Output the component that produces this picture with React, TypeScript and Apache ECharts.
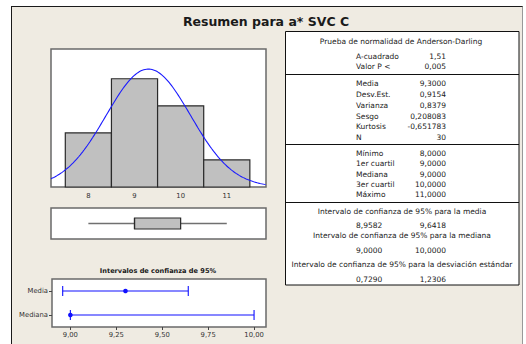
import React, { useEffect, useRef } from "react";
import * as echarts from "echarts";

// ---------- data ----------
const TITLE = "Resumen para a* SVC C";

const binStarts = [7.5, 8.5, 9.5, 10.5];
const binEnds = [8.5, 9.5, 10.5, 11.5];
const binCounts = [6, 12, 9, 3];
const histTicks = [8, 9, 10, 11];

const MEAN = 9.3;
const SD = 0.9154;
const N = 30;
const BIN_WIDTH = 1;

// min, Q1, median, Q3, max
const boxStats = [8, 9, 9, 10, 11];

const ciTitle = "Intervalos de confianza de 95%";
const ciCategories = ["Mediana", "Media"];
const ciLow = [9.0, 8.9582];
const ciHigh = [10.0, 9.6418];
const ciPoint = [9.0, 9.3];
const ciTicks = [9.0, 9.25, 9.5, 9.75, 10.0];

const adHeader = "Prueba de normalidad de Anderson-Darling";
const adLabels = ["A-cuadrado", "Valor P <"];
const adValues = ["1,51", "0,005"];

const momentLabels = ["Media", "Desv.Est.", "Varianza", "Sesgo", "Kurtosis", "N"];
const momentValues = ["9,3000", "0,9154", "0,8379", "0,208083", "-0,651783", "30"];

const quantLabels = ["Mínimo", "1er cuartil", "Mediana", "3er cuartil", "Máximo"];
const quantValues = ["8,0000", "9,0000", "9,0000", "10,0000", "11,0000"];

const ciTableTitles = [
  "Intervalo de confianza de 95% para la media",
  "Intervalo de confianza de 95% para la mediana",
  "Intervalo de confianza de 95% para la desviación estándar",
];
const ciTableLow = ["8,9582", "9,0000", "0,7290"];
const ciTableHigh = ["9,6418", "10,0000", "1,2306"];

// ---------- layout ----------
const HIST_MIN = 7.19;
const HIST_MAX = 11.85;
const FONT = '"DejaVu Sans", sans-serif';
const TXT = "#1a1a1a";

function fittedNormal(): number[][] {
  // fitted normal density from the reported mean / std. dev., scaled to counts
  const pts: number[][] = [];
  for (let x = HIST_MIN; x <= HIST_MAX + 1e-9; x += 0.03) {
    const z = (x - MEAN) / SD;
    const y = (N * BIN_WIDTH) / (SD * Math.sqrt(2 * Math.PI)) * Math.exp(-0.5 * z * z);
    pts.push([x, y]);
  }
  return pts;
}

function txt(text: string, x: number, y: number, align: string, size = 7.5, bold = false) {
  return {
    type: "text",
    silent: true,
    style: {
      text,
      x,
      y,
      fill: TXT,
      textAlign: align,
      textVerticalAlign: "middle",
      fontSize: size,
      fontFamily: FONT,
      fontWeight: bold ? "bold" : "normal",
    },
  };
}

export default function App() {
  const ref = useRef<HTMLDivElement>(null);

  useEffect(() => {
    if (!ref.current) return;
    const chart = echarts.init(ref.current, undefined, { renderer: "svg" });

    const LBL_X = 356;
    const VAL_X = 446;
    const graphics: any[] = [];
    // table
    graphics.push({
      type: "rect",
      silent: true,
      shape: { x: 285.5, y: 31.5, width: 233.5, height: 253.5 },
      style: { fill: "#ffffff", stroke: "#111", lineWidth: 1 },
    });
    [74.5, 144.5, 202.5].forEach((y) =>
      graphics.push({
        type: "line",
        silent: true,
        shape: { x1: 285.5, y1: y, x2: 519, y2: y },
        style: { stroke: "#111", lineWidth: 1.2 },
      })
    );
    graphics.push(txt(TITLE, 266, 21, "center", 12.5, true));
    graphics.push(txt(adHeader, 401, 41, "center"));
    adLabels.forEach((l, i) => {
      graphics.push(txt(l, LBL_X, 56 + i * 10.7, "left"));
      graphics.push(txt(adValues[i], VAL_X, 56 + i * 10.7, "right"));
    });
    momentLabels.forEach((l, i) => {
      graphics.push(txt(l, LBL_X, 83.5 + i * 10.85, "left"));
      graphics.push(txt(momentValues[i], VAL_X, 83.5 + i * 10.85, "right"));
    });
    quantLabels.forEach((l, i) => {
      graphics.push(txt(l, LBL_X, 153.5 + i * 10.3, "left"));
      graphics.push(txt(quantValues[i], VAL_X, 153.5 + i * 10.3, "right"));
    });
    const ciTitleY = [211.7, 235.7, 264.3];
    const ciValY = [225, 250.7, 279];
    ciTableTitles.forEach((t, i) => {
      graphics.push(txt(t, 402, ciTitleY[i], "center"));
      graphics.push(txt(ciTableLow[i], LBL_X, ciValY[i], "left"));
      graphics.push(txt(ciTableHigh[i], VAL_X, ciValY[i], "right"));
    });
    graphics.push(txt(ciTitle, 158, 271, "center", 6.6, true));

    const gridStyle = {
      show: true,
      backgroundColor: "#ffffff",
      borderColor: "#6a6a6a",
      borderWidth: 1.5,
      containLabel: false,
    };

    const option: any = {
      animation: false,
      graphic: graphics,
      grid: [
        { ...gridStyle, left: 51, top: 49, width: 215, height: 138 },
        { ...gridStyle, left: 51, top: 208, width: 215, height: 31 },
        { ...gridStyle, left: 52, top: 279, width: 214, height: 48 },
      ],
      xAxis: [
        {
          type: "value",
          gridIndex: 0,
          min: HIST_MIN,
          max: HIST_MAX,
          axisLine: { show: false },
          axisTick: { show: false },
          splitLine: { show: false },
          axisLabel: {
            customValues: histTicks,
            fontSize: 6.8,
            color: "#333",
            fontFamily: FONT,
            margin: 5,
            formatter: (v: number) => String(v),
          },
        },
        {
          type: "value",
          gridIndex: 1,
          min: HIST_MIN,
          max: HIST_MAX,
          show: false,
        },
        {
          type: "value",
          gridIndex: 2,
          min: 8.9,
          max: 10.065,
          axisLine: { show: false },
          splitLine: { show: false },
          axisTick: {
            show: true,
            customValues: ciTicks,
            length: 3,
            lineStyle: { color: "#444", width: 1 },
          },
          axisLabel: {
            customValues: ciTicks,
            fontSize: 6.8,
            color: "#333",
            fontFamily: FONT,
            margin: 4,
            formatter: (v: number) => v.toFixed(2).replace(".", ","),
          },
        },
      ],
      yAxis: [
        { type: "value", gridIndex: 0, min: 0, max: 15.3, show: false },
        { type: "value", gridIndex: 1, min: 0, max: 1, show: false },
        {
          type: "category",
          gridIndex: 2,
          data: ciCategories,
          axisLine: { show: false },
          splitLine: { show: false },
          axisTick: { show: true, length: 3, alignWithLabel: true, lineStyle: { color: "#444" } },
          axisLabel: { fontSize: 6.8, color: "#333", fontFamily: FONT, margin: 4 },
        },
      ],
      series: [
        {
          type: "custom",
          xAxisIndex: 0,
          yAxisIndex: 0,
          data: binStarts.map((s, i) => [s, binEnds[i], binCounts[i]]),
          encode: { x: [0, 1], y: 2 },
          renderItem: (_p: any, api: any) => {
            const a = api.coord([api.value(0), 0]);
            const b = api.coord([api.value(1), api.value(2)]);
            return {
              type: "rect",
              shape: { x: a[0], y: b[1], width: b[0] - a[0], height: a[1] - b[1] },
              style: { fill: "#c0c0c0", stroke: "#2a2a2a", lineWidth: 1.2 },
            };
          },
        },
        {
          type: "line",
          xAxisIndex: 0,
          yAxisIndex: 0,
          data: fittedNormal(),
          showSymbol: false,
          symbol: "none",
          lineStyle: { color: "#1a1aff", width: 1.1 },
          clip: true,
          z: 5,
        },
        {
          type: "custom",
          xAxisIndex: 1,
          yAxisIndex: 1,
          data: [[...boxStats, 0.5]],
          encode: { x: [0, 1, 2, 3, 4], y: 5 },
          renderItem: (_p: any, api: any) => {
            const yv = api.value(5);
            const pMin = api.coord([api.value(0), yv]);
            const pQ1 = api.coord([api.value(1), yv]);
            const pMed = api.coord([api.value(2), yv]);
            const pQ3 = api.coord([api.value(3), yv]);
            const pMax = api.coord([api.value(4), yv]);
            const h = 11;
            const y = pQ1[1];
            return {
              type: "group",
              children: [
                { type: "line", shape: { x1: pMin[0], y1: y, x2: pQ1[0], y2: y }, style: { stroke: "#707070", lineWidth: 1.5 } },
                { type: "line", shape: { x1: pQ3[0], y1: y, x2: pMax[0], y2: y }, style: { stroke: "#707070", lineWidth: 1.5 } },
                { type: "rect", shape: { x: pQ1[0], y: y - h / 2, width: pQ3[0] - pQ1[0], height: h }, style: { fill: "#c0c0c0", stroke: "#2a2a2a", lineWidth: 1.2 } },
                { type: "line", shape: { x1: pMed[0], y1: y - h / 2, x2: pMed[0], y2: y + h / 2 }, style: { stroke: "#2a2a2a", lineWidth: 1.2 } },
              ],
            };
          },
        },
        {
          type: "custom",
          xAxisIndex: 2,
          yAxisIndex: 2,
          data: ciCategories.map((_c, i) => [i, ciLow[i], ciHigh[i], ciPoint[i]]),
          encode: { x: [1, 2, 3], y: 0 },
          renderItem: (_p: any, api: any) => {
            const c = api.value(0);
            const lo = api.coord([api.value(1), c]);
            const hi = api.coord([api.value(2), c]);
            const pt = api.coord([api.value(3), c]);
            const cap = 5;
            const st = { stroke: "#1010ff", lineWidth: 1.1 };
            return {
              type: "group",
              children: [
                { type: "line", shape: { x1: lo[0], y1: lo[1], x2: hi[0], y2: hi[1] }, style: st },
                { type: "line", shape: { x1: lo[0], y1: lo[1] - cap, x2: lo[0], y2: lo[1] + cap }, style: st },
                { type: "line", shape: { x1: hi[0], y1: hi[1] - cap, x2: hi[0], y2: hi[1] + cap }, style: st },
                { type: "circle", shape: { cx: pt[0], cy: pt[1], r: 2.3 }, style: { fill: "#1010ff" } },
              ],
            };
          },
        },
      ],
    };

    chart.setOption(option);
    return () => chart.dispose();
  }, []);

  return (
    <div
      style={{
        position: "fixed",
        left: 0,
        top: 0,
        width: 526,
        height: 344,
        background: "#ffffff",
        overflow: "hidden",
      }}
    >
      <div
        style={{
          position: "absolute",
          left: 11,
          top: 6,
          width: 510,
          height: 400,
          background: "#efebe2",
          borderLeft: "1.5px solid #1a1a1a",
          borderTop: "1.5px solid #1a1a1a",
          borderRight: "1px solid #999",
        }}
      />
      <div ref={ref} style={{ position: "absolute", left: 0, top: 0, width: 526, height: 344 }} />
    </div>
  );
}
